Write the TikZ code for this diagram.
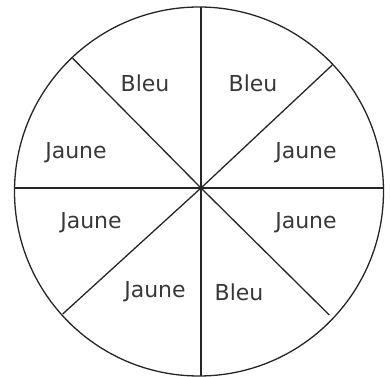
\documentclass[tikz,border=0pt]{standalone}
\usepackage{fontspec}
\setmainfont{DejaVu Sans}
\begin{document}
\begin{tikzpicture}[x=1pt,y=1pt,
  rim/.style={line width=1.3pt, draw=black!85},
  spoke/.style={line width=1.3pt, draw=black!85},
  lbl/.style={font=\fontsize{22}{25}\selectfont, text=black!78, inner sep=0pt}]
\useasboundingbox (0,0) rectangle (391,377);
\coordinate (O) at (199,185.5);
\draw[rim] (O) circle (184.5);
\coordinate (C) at (201,189);
\coordinate (T) at (201,370);
\coordinate (B) at (201,1);
\coordinate (L) at (15,189);
\coordinate (R) at (383,189);
\coordinate (UL) at (72.7,318.7);
\coordinate (UR) at (332.3,312);
\coordinate (LL) at (62.7,63);
\coordinate (LR) at (329.3,62);
\draw[spoke] (T) -- (B);
\draw[spoke] (L) -- (R);
\draw[spoke] (UL) -- (C) -- (LR);
\draw[spoke] (UR) -- (C) -- (LL);
\node[lbl] (b1) at (145,294) {Bleu};
\node[lbl] (b2) at (253,294) {Bleu};
\node[lbl] (j1) at (76,224) {Jaune};
\node[lbl] (j2) at (306,224) {Jaune};
\node[lbl] (j3) at (91,154) {Jaune};
\node[lbl] (j4) at (306,154) {Jaune};
\node[lbl] (j5) at (155,85) {Jaune};
\node[lbl] (b3) at (239,85) {Bleu};
\end{tikzpicture}
\end{document}
